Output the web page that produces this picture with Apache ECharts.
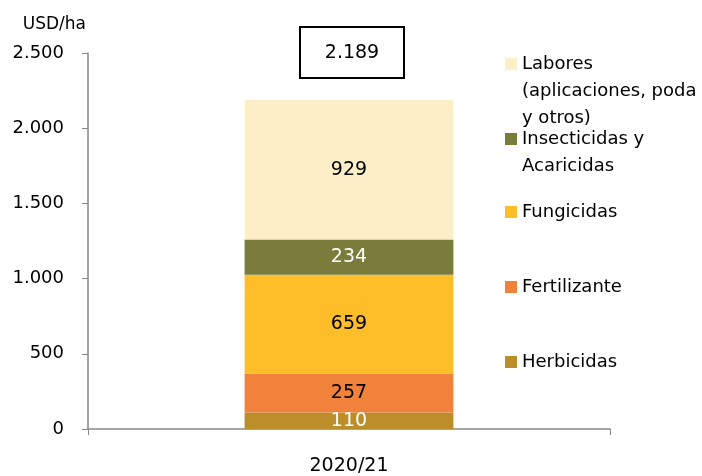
<!DOCTYPE html>
<html>
<head>
<meta charset="utf-8">
<script src="https://cdn.jsdelivr.net/npm/echarts@6/dist/echarts.min.js"></script>
<style>
  html, body { margin: 0; padding: 0; background: #fff; }
  #chart { width: 702px; height: 476px; }
</style>
</head>
<body>
<div id="chart"></div>
<script>
const categories = ['2020/21']
const seriesNames = ['Herbicidas', 'Fertilizante', 'Fungicidas', 'Insecticidas y Acaricidas', 'Labores (aplicaciones, poda y otros)']
// blank lines on top keep the icon next to the first line
const legendTexts = ['Herbicidas', 'Fertilizante', 'Fungicidas', '\nInsecticidas y\nAcaricidas', '\n\nLabores\n(aplicaciones, poda\ny otros)']
const herbicidas = [110]
const fertilizante = [257]
const fungicidas = [659]
const insecticidas = [234]
const labores = [929]
const totalLabel = ['2.189']

const colors = ['#BB8E2A', '#F0823C', '#FDBE2A', '#7A7C3B', '#FCEFC7']
const labelColors = ['#fff', '#000', '#000', '#fff', '#000']
const legendTops = [348.5, 273.5, 198.5, 98.5, -3.5]
const font = 'DejaVu Sans'

const values = [herbicidas, fertilizante, fungicidas, insecticidas, labores]

const chart = echarts.init(document.getElementById('chart'))

// format like 1.000
function fmt(v) {
  return String(v).replace(/\B(?=(\d{3})+(?!\d))/g, '.')
}

const option = {
  animation: false,
  textStyle: { fontFamily: font },
  grid: { left: 88, right: 92, top: 53, bottom: 46, containLabel: false },
  legend: seriesNames.map((n, i) => ({
    data: [n],
    left: 505,
    top: legendTops[i],
    padding: 0,
    itemWidth: 12,
    itemHeight: 12,
    icon: 'rect',
    formatter: () => legendTexts[i],
    textStyle: { fontFamily: font, fontSize: 18, color: '#000', lineHeight: 27 },
    selectedMode: false
  })),
  xAxis: {
    type: 'category',
    data: categories,
    axisLine: { lineStyle: { color: '#888', width: 1.5 } },
    axisTick: { show: true, length: 6, lineStyle: { color: '#888' } },
    axisLabel: { color: '#000', fontSize: 19, margin: 28, fontFamily: font }
  },
  yAxis: {
    type: 'value',
    min: 0, max: 2500, interval: 500,
    name: 'USD/ha',
    nameLocation: 'end',
    nameGap: 20,
    nameTextStyle: { color: '#000', fontSize: 17, align: 'right', padding: [0, 2, 0, 0], fontFamily: font },
    axisLine: { show: true, lineStyle: { color: '#888', width: 1.5 } },
    axisTick: { show: true, length: 6, lineStyle: { color: '#888' } },
    splitLine: { show: false },
    axisLabel: { color: '#000', fontSize: 18, margin: 24, formatter: v => fmt(v), fontFamily: font }
  },
  series: seriesNames.map((n, i) => ({
    name: n,
    type: 'bar',
    stack: 'total',
    barWidth: '40%',
    data: values[i],
    itemStyle: { color: colors[i] },
    label: {
      show: true,
      position: 'inside',
      color: labelColors[i],
      fontSize: 19,
      fontFamily: font,
      formatter: p => fmt(p.value)
    }
  }))
}

chart.setOption(option)

const cx = chart.convertToPixel({ xAxisIndex: 0 }, categories[0])
chart.setOption({
  graphic: [{
    type: 'group',
    left: cx - 50,
    top: 26,
    children: [
      { type: 'rect', shape: { x: 0, y: 0, width: 104, height: 51 }, style: { fill: '#fff', stroke: '#000', lineWidth: 2 } },
      { type: 'text', x: 52, y: 26, style: { text: totalLabel[0], font: '19px ' + font, fill: '#000', align: 'center', verticalAlign: 'middle' } }
    ]
  }]
})
</script>
</body>
</html>
